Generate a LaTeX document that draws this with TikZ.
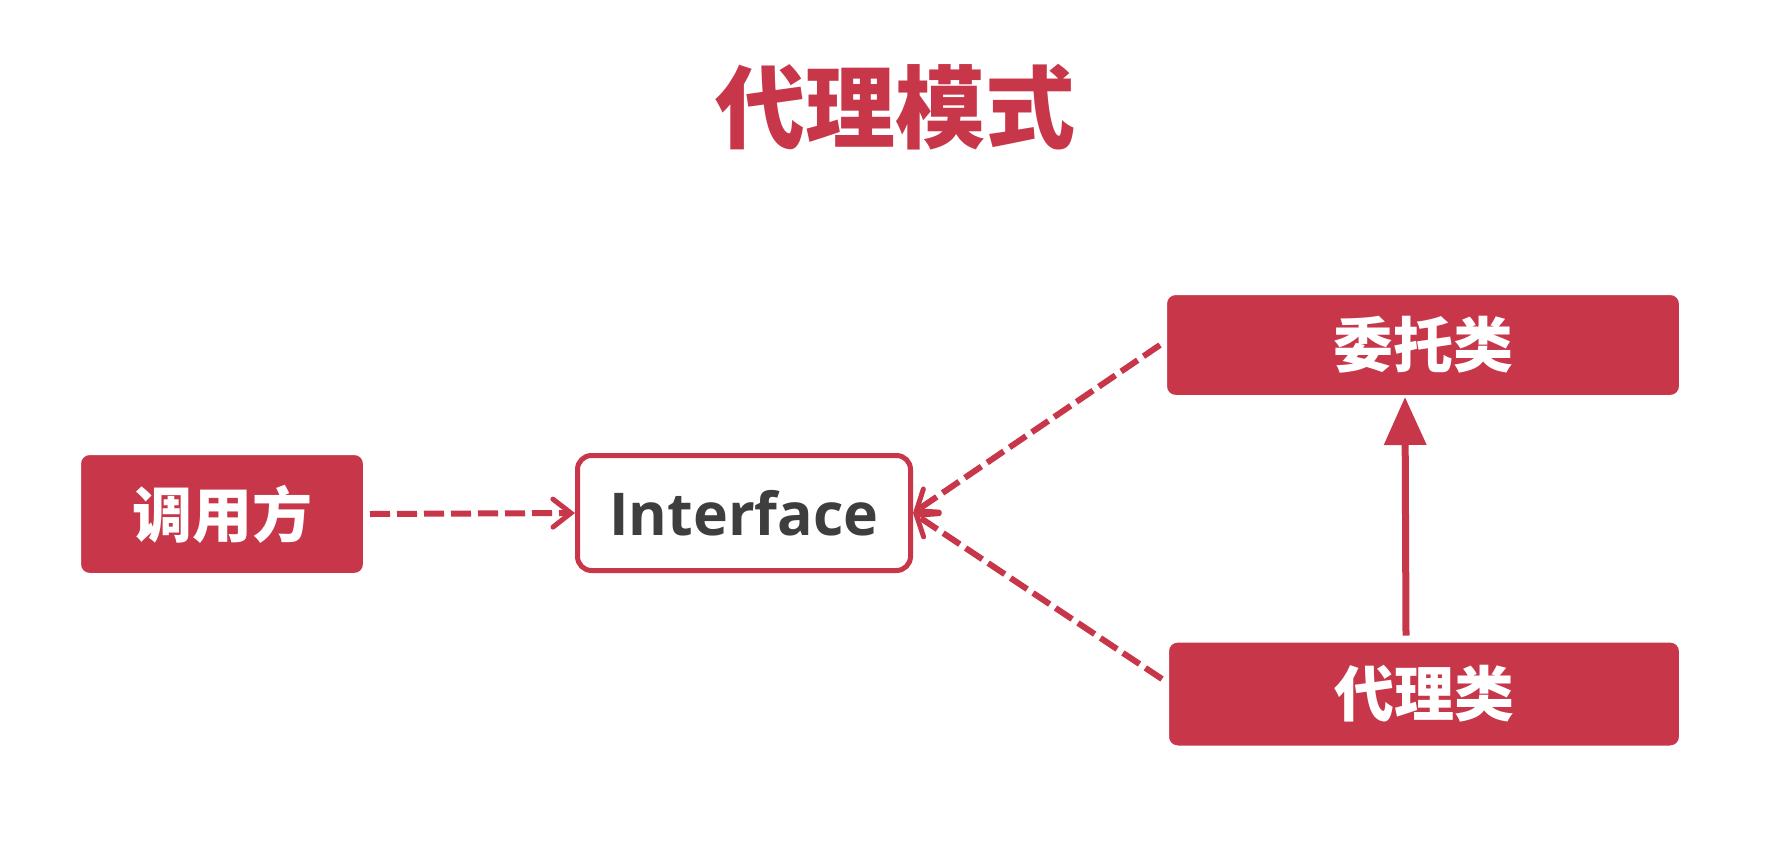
\documentclass[tikz,border=0pt]{standalone}
\usepackage{fontspec}
\newfontfamily\cjk{Noto Sans CJK SC}
\newfontfamily\latfont{Open Sans}
\usetikzlibrary{arrows.meta,shadows,calc}
\definecolor{pred}{HTML}{C8364A}
\definecolor{tgray}{HTML}{3E3E3E}
\tikzset{
  redbox/.style={rectangle, rounded corners=12pt, fill=pred, draw=white, line width=7pt,
    drop shadow={shadow xshift=1pt, shadow yshift=-2pt, opacity=0.18, fill=black},
    text=white, font=\cjk\bfseries\fontsize{60}{66}\selectfont, inner sep=0pt},
  ifbox/.style={rectangle, rounded corners=14pt, fill=white, draw=pred, line width=5pt,
    drop shadow={shadow xshift=1pt, shadow yshift=-2pt, opacity=0.15, fill=black},
    text=tgray, font=\latfont\bfseries\fontsize{59}{64}\selectfont, inner sep=0pt},
  dashlink/.style={draw=pred, line width=6pt, dash pattern=on 20pt off 7pt,
    -{Straight Barb[length=18pt,width=28pt,line width=5pt,line cap=round]}},
  solidlink/.style={draw=pred, line width=7pt, -{Triangle[length=48pt,width=41pt]}},
}
\begin{document}
\begin{tikzpicture}[x=1pt,y=-1pt]
\useasboundingbox[fill=white] (0,0) rectangle (1782,852);
\node (title) at (895,107) {\cjk\bfseries\fontsize{90}{100}\selectfont\color{pred}代理模式};
\node[redbox, minimum width=289pt, minimum height=125pt] (caller) at (222,514) {调用方};
\node[ifbox, minimum width=333pt, minimum height=115pt] (iface) at (744,513) {Interface};
\node[redbox, minimum width=519pt, minimum height=107pt] (deleg) at (1423,345) {委托类};
\node[redbox, minimum width=517pt, minimum height=110pt] (proxy) at (1424,694) {代理类};
\draw[dashlink] (caller.east) -- (iface.west);
\draw[dashlink] (deleg.west) -- (iface.east);
\draw[dashlink] ([yshift=15pt]proxy.west) -- (iface.east);
\draw[solidlink, shorten >=-5pt] ([xshift=-18pt]proxy.north) -- ([xshift=-18pt]deleg.south);
\end{tikzpicture}
\end{document}
